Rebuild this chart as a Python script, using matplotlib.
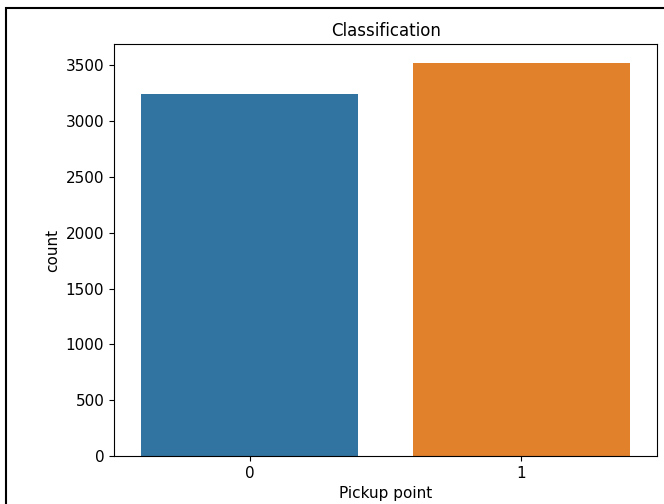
import matplotlib.pyplot as plt
from matplotlib.patches import Rectangle

categories = ['0', '1']
counts = [3240, 3515]
colors = ['#3274a1', '#e1812c']

fig = plt.figure(figsize=(6.64, 5.04), dpi=100)
ax = fig.add_axes([0.1717, 0.095, 0.818, 0.818])

ax.bar(categories, counts, width=0.8, color=colors)
ax.set_xlim(-0.5, 1.5)
ax.set_ylim(0, 3690)
ax.set_yticks(range(0, 3501, 500))
ax.tick_params(labelsize=11)
ax.set_title('Classification', fontsize=12)
ax.set_xlabel('Pickup point', fontsize=11)
ax.set_ylabel('count', fontsize=11)

# screenshot frame
fig.patches.append(Rectangle((6 / 664, -0.01), 1.1, 1 - 8 / 504 + 0.01,
                             transform=fig.transFigure, fill=False,
                             edgecolor='black', linewidth=1.5))

fig.savefig('out.png', dpi=100)
